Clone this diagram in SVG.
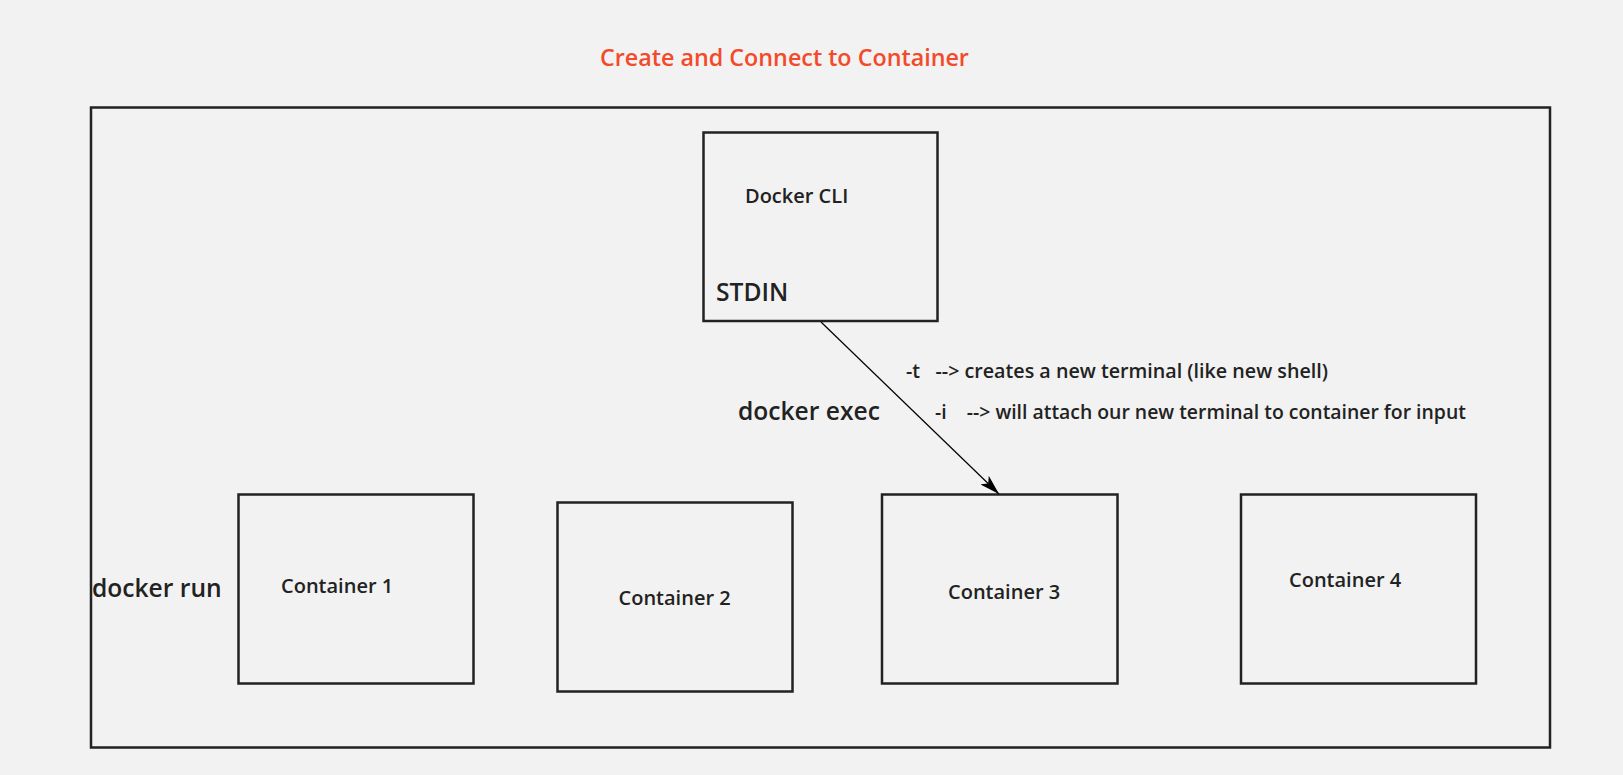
<svg xmlns="http://www.w3.org/2000/svg" width="1623" height="775" viewBox="0 0 1623 775">
<style>
.box{fill:#f2f2f2;stroke:#222;stroke-width:2.5}
.t{font-family:"Open Sans","Noto Sans",sans-serif;font-weight:600;fill:#222}
.c{font-size:20px}
.b{font-size:24.6px}
.s{font-size:19.5px}
</style>
<defs>
<marker id="ah" viewBox="0 0 20 12" refX="20" refY="6" markerWidth="20" markerHeight="12" markerUnits="userSpaceOnUse" orient="auto">
<path d="M0,0 L20,6 L0,12 L5,6 Z" fill="#000"/>
</marker>
</defs>
<rect x="0" y="0" width="1623" height="775" fill="#f2f2f2"/>
<text x="600" y="66" class="t" style="fill:#f24a2a;font-size:23.3px">Create and Connect to Container</text>
<g id="outer"><rect class="box" x="91" y="107.5" width="1459" height="640"/></g>
<g id="cli"><rect class="box" x="703.5" y="132.5" width="234" height="188.5"/>
<text x="745" y="202.5" class="t c">Docker CLI</text>
<text x="716" y="301" class="t b">STDIN</text></g>
<g id="c1"><rect class="box" x="238.5" y="494.5" width="235" height="189"/>
<text x="281" y="592.7" class="t c">Container 1</text></g>
<g id="c2"><rect class="box" x="557.5" y="502.5" width="235" height="189"/>
<text x="618.5" y="604.7" class="t c">Container 2</text></g>
<g id="c3"><rect class="box" x="882" y="494.5" width="235.5" height="189"/>
<text x="948" y="598.7" class="t c">Container 3</text></g>
<g id="c4"><rect class="box" x="1241" y="494.5" width="235" height="189"/>
<text x="1289" y="586.7" class="t c">Container 4</text></g>
<text x="92" y="596.7" class="t b">docker run</text>
<text x="738" y="420" class="t b">docker exec</text>
<text x="906" y="378.3" class="t" style="font-size:19.7px" xml:space="preserve">-t   --&gt; creates a new terminal (like new shell)</text>
<text x="935" y="419.3" class="t" style="font-size:19.4px" xml:space="preserve">-i    --&gt; will attach our new terminal to container for input</text>
<g id="connectors"><line x1="821" y1="322" x2="999" y2="494" stroke="#000" stroke-width="1.2" marker-end="url(#ah)"/></g>
</svg>
